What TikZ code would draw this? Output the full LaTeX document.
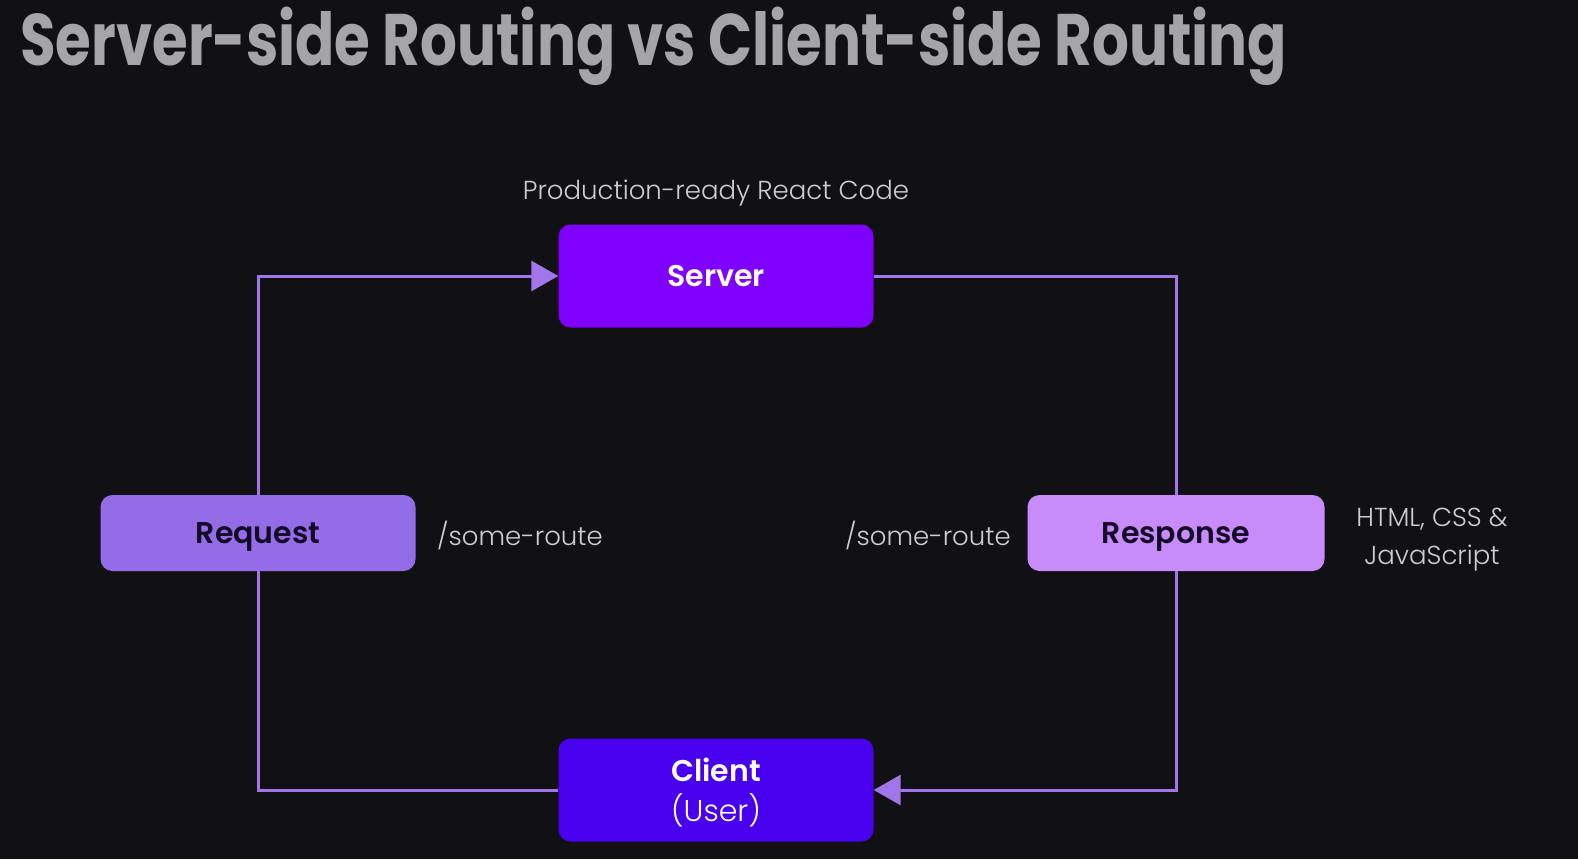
\documentclass[tikz,border=0pt]{standalone}
\usepackage{fontspec}
\setmainfont{Poppins}[UprightFont={* Light}, BoldFont={* SemiBold}]
\newfontfamily\titlefont{Poppins}[UprightFont={* Bold}]
\usetikzlibrary{arrows.meta}
\definecolor{bg}{RGB}{17,16,20}
\definecolor{servercol}{RGB}{127,0,255}
\definecolor{clientcol}{RGB}{72,0,238}
\definecolor{requestcol}{RGB}{147,108,232}
\definecolor{responsecol}{RGB}{200,140,250}
\definecolor{linkcol}{RGB}{160,118,232}
\definecolor{notecol}{RGB}{205,205,210}
\definecolor{titlecol}{RGB}{165,165,168}
\definecolor{darktext}{RGB}{20,10,40}

\begin{document}
\begin{tikzpicture}[x=1pt,y=-1pt,
  box/.style={rounded corners=12pt, inner sep=0pt, minimum width=315pt, minimum height=103pt, align=center, font=\fontsize{30}{40}\selectfont},
  onerow/.style={text height=21pt, text depth=0pt},
  note/.style={text=notecol, inner sep=0pt, font=\fontsize{26}{38}\selectfont},
  link/.style={draw=linkcol, line width=3pt},
  tip/.style={-{Triangle[length=27pt,width=30pt]}}]
\fill[bg] (0,0) rectangle (1578,859);
\useasboundingbox (0,0) rectangle (1578,859);
\node[anchor=base west, text=titlecol, inner sep=0pt, font=\fontsize{73}{80}\titlefont] (title) at (20,65) {\resizebox{1267pt}{\height}{Server-side Routing vs Client-side Routing}};
\node[box, onerow, fill=servercol, text=white] (server) at (716,276) {\bfseries Server};
\node[box, text depth=0pt, fill=clientcol, text=white] (client) at (716,790) {\bfseries Client\\(User)};
\node[box, onerow, fill=requestcol, text=darktext, minimum height=76pt] (request) at (258,533) {\bfseries Request};
\node[box, onerow, fill=responsecol, text=darktext, minimum width=297pt, minimum height=76pt] (response) at (1176,533) {\bfseries Response};
\node[note, anchor=south] (code) at (716,206) {Production-ready React Code};
\node[note, anchor=west] (route1) at (437,535) {/some-route};
\node[note, anchor=east] (route2) at (1011,535) {/some-route};
\node[note, align=center] (files) at (1432,540) {HTML, CSS \&\\JavaScript};
\draw[link, tip] (request.north) |- (server.west);
\draw[link] (request.south) |- (client.west);
\draw[link] (server.east) -| (response.north);
\draw[link, tip] (response.south) |- (client.east);
\end{tikzpicture}
\end{document}
